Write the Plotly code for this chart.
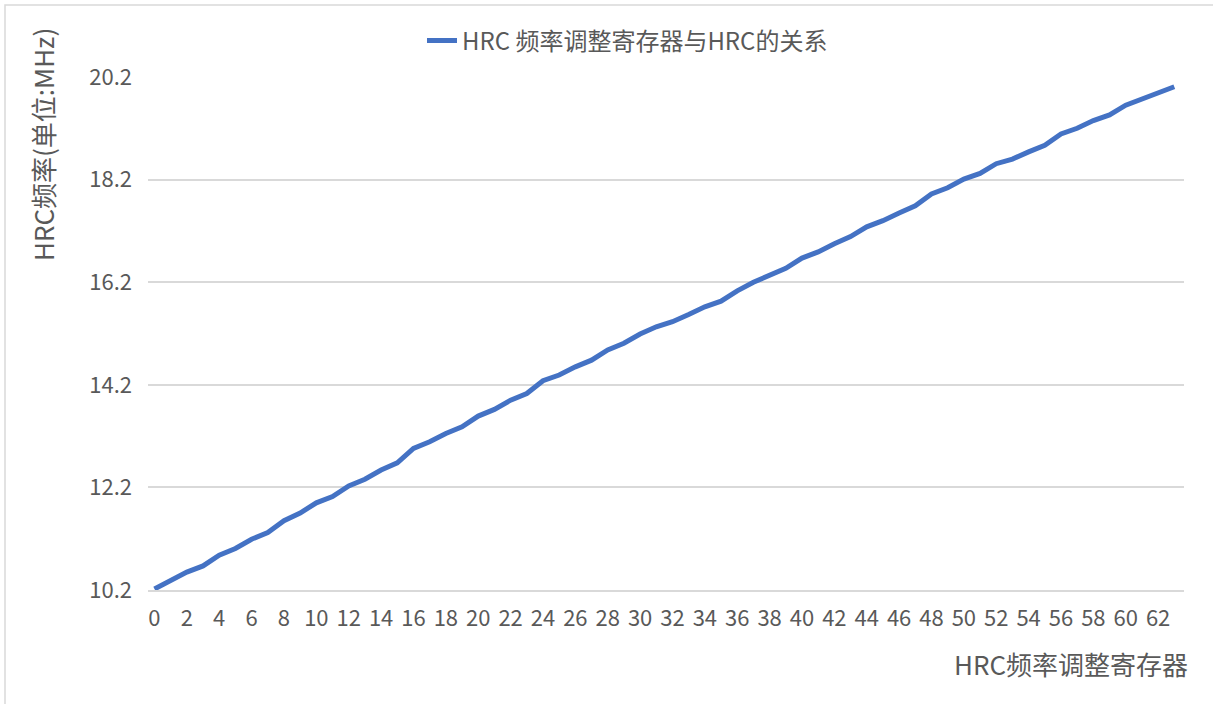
import plotly.graph_objects as go

# HRC trim register setting vs. resulting HRC clock (MHz)
register_values = list(range(64))
hrc_freq_mhz = [
    10.22, 10.38, 10.55, 10.67, 10.88, 11.01, 11.19, 11.32, 11.55, 11.70,
    11.90, 12.02, 12.23, 12.36, 12.54, 12.68, 12.96, 13.09, 13.25, 13.38,
    13.59, 13.72, 13.90, 14.03, 14.28, 14.39, 14.55, 14.68, 14.88, 15.01,
    15.19, 15.33, 15.43, 15.57, 15.72, 15.83, 16.03, 16.20, 16.34, 16.47,
    16.67, 16.79, 16.95, 17.09, 17.28, 17.40, 17.55, 17.69, 17.92, 18.04,
    18.21, 18.32, 18.51, 18.60, 18.74, 18.87, 19.09, 19.20, 19.35, 19.46,
    19.65, 19.77, 19.89, 20.01,
]
x_tick_values = list(range(0, 64, 2))
y_tick_values = [10.2, 12.2, 14.2, 16.2, 18.2, 20.2]

series_name = "HRC 频率调整寄存器与HRC的关系"
y_title = "HRC频率(单位:MHz)"
x_title = "HRC频率调整寄存器"

W, H = 1213, 704
L, R, T, B = 148, 29, 77, 114
FONT = "Noto Sans CJK SC, Noto Sans, sans-serif"
GRAY = "#595959"
GRID = "#d9d9d9"


def px_x(p):
    return (p - L) / (W - L - R)


def px_y(p):
    return (H - B - p) / (H - T - B)


fig = go.Figure(
    go.Scatter(
        x=register_values,
        y=hrc_freq_mhz,
        mode="lines",
        name=series_name,
        line=dict(color="#4472C4", width=5, shape="linear"),
    )
)

fig.update_layout(
    width=W,
    height=H,
    margin=dict(l=L, r=R, t=T, b=B),
    paper_bgcolor="white",
    plot_bgcolor="white",
    font=dict(family=FONT, color=GRAY, size=22),
    showlegend=True,
    legend=dict(
        orientation="h",
        x=px_x(422),
        xanchor="left",
        y=px_y(41),
        yanchor="middle",
        font=dict(size=24, color=GRAY, family=FONT),
        bgcolor="rgba(0,0,0,0)",
    ),
    xaxis=dict(
        range=[-0.4, 63.6],
        tickmode="array",
        tickvals=x_tick_values,
        ticktext=[str(v) for v in x_tick_values],
        showgrid=False,
        zeroline=False,
        showline=True,
        linecolor=GRID,
        linewidth=1.5,
        ticks="",
        ticklabelstandoff=8,
        tickfont=dict(size=22, color=GRAY, family=FONT),
    ),
    yaxis=dict(
        range=[10.2, 20.2],
        tickmode="array",
        tickvals=y_tick_values,
        ticktext=[f"{v:.1f}" for v in y_tick_values],
        showgrid=True,
        gridcolor=GRID,
        gridwidth=1.5,
        zeroline=False,
        showline=False,
        ticks="",
        ticklabelstandoff=15,
        tickfont=dict(size=22, color=GRAY, family=FONT),
    ),
    annotations=[
        dict(
            text=y_title,
            xref="paper",
            yref="paper",
            x=px_x(42),
            y=px_y(145),
            xanchor="center",
            yanchor="middle",
            textangle=-90,
            showarrow=False,
            font=dict(size=26, color=GRAY, family=FONT),
        ),
        dict(
            text=x_title,
            xref="paper",
            yref="paper",
            x=px_x(1190),
            y=px_y(663),
            xanchor="right",
            yanchor="middle",
            showarrow=False,
            font=dict(size=26, color=GRAY, family=FONT),
        ),
    ],
    shapes=[
        dict(
            type="rect",
            xref="paper",
            yref="paper",
            x0=px_x(5),
            x1=px_x(1240),
            y0=px_y(740),
            y1=px_y(5),
            line=dict(color=GRID, width=1.5),
            fillcolor="rgba(0,0,0,0)",
            layer="below",
        )
    ],
)

fig.write_html("out.html")
